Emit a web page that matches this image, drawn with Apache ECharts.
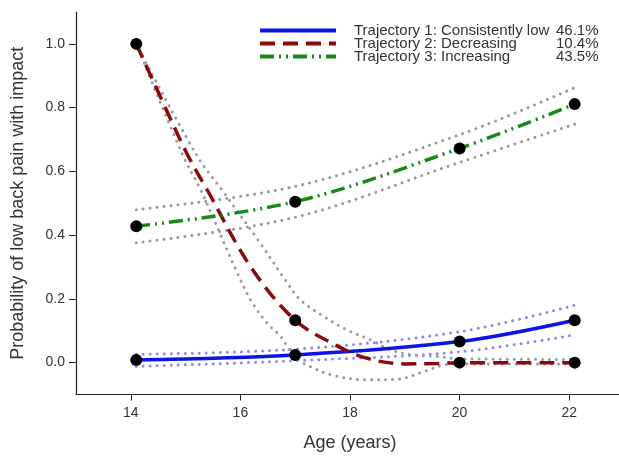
<!DOCTYPE html>
<html>
<head>
<meta charset="utf-8">
<script src="https://cdn.jsdelivr.net/npm/echarts@6/dist/echarts.min.js"></script>
<style>
html, body { margin: 0; padding: 0; background: #fff; }
#chart { width: 619px; height: 459px; }
</style>
</head>
<body>
<div id="chart"></div>
<script>
// Axis ticks
const xTicks = [14, 16, 18, 20, 22];
const yTicks = [0, 0.2, 0.4, 0.6, 0.8, 1.0];

// Trajectory labels and group shares
const trajNames = ['Trajectory 1: Consistently low', 'Trajectory 2: Decreasing', 'Trajectory 3: Increasing'];
const trajShares = ['46.1%', '10.4%', '43.5%'];

// Assessment ages (observed points)
const ages = [14.1, 17.0, 20.0, 22.1];

// Trajectory 1: consistently low
const t1 = [0.008, 0.024, 0.066, 0.133];
const t1Upper = [0.026, 0.042, 0.097, 0.180];
const t1Lower = [-0.012, 0.006, 0.034, 0.087];

// Trajectory 2: decreasing (fitted curve sampled along age)
const t2 = [1.0, 0.133, 0.0, 0.0];
const t2CurveAges = [14.1, 14.55, 15.03, 15.4, 16.19, 17.0, 17.74, 18.3, 19.0, 19.6, 20.0, 22.1];
const t2Curve = [1.0, 0.83, 0.654, 0.54, 0.30, 0.133, 0.055, 0.014, -0.004, -0.003, 0.0, 0.0];
const t2UpperAges = [14.1, 15.19, 15.67, 16.37, 16.8, 17.1, 17.53, 17.95, 18.38, 18.74, 19.16, 19.6, 20.0, 22.1];
const t2Upper = [1.0, 0.654, 0.54, 0.373, 0.264, 0.196, 0.144, 0.102, 0.071, 0.040, 0.024, 0.019, 0.012, 0.010];
const t2LowerAges = [14.1, 14.94, 15.28, 15.95, 16.19, 16.49, 16.74, 16.98, 17.28, 17.65, 18.26, 18.87, 19.35, 19.72, 20.0, 22.1];
const t2Lower = [1.0, 0.654, 0.54, 0.279, 0.196, 0.123, 0.081, 0.019, -0.0125, -0.038, -0.054, -0.052, -0.028, -0.007, -0.004, -0.004];

// Trajectory 3: increasing
const t3 = [0.428, 0.505, 0.672, 0.811];
const t3Upper = [0.480, 0.553, 0.715, 0.8625];
const t3Lower = [0.376, 0.456, 0.628, 0.748];

const pairs = (xs, ys) => xs.map((x, i) => [x, ys[i]]);

const FONT = '"Liberation Sans", Arial, sans-serif';
const DOT = [0.01, 7];

function ciLine(xs, ys, color) {
  return {
    type: 'line', data: pairs(xs, ys), smooth: 0.35, symbol: 'none', z: 1,
    silent: true,
    lineStyle: { color: color, width: 3, type: DOT, cap: 'round' }
  };
}

function mainLine(name, xs, ys, color, type) {
  return {
    name: name, type: 'line', data: pairs(xs, ys), smooth: 0.35, symbol: 'none', z: 3,
    lineStyle: { color: color, width: 3.5, type: type },
    itemStyle: { color: color }
  };
}

function points(ys) {
  return {
    type: 'scatter', data: pairs(ages, ys), symbol: 'circle', symbolSize: 12, z: 5,
    itemStyle: { color: '#000', opacity: 1 }, silent: true
  };
}

const chart = echarts.init(document.getElementById('chart'), null, { renderer: 'canvas' });

chart.setOption({
  animation: false,
  backgroundColor: '#fff',
  grid: { left: 76, top: 12, width: 548, height: 382.5, containLabel: false, outerBoundsMode: 'none' },
  xAxis: {
    type: 'value', min: 13, max: 23,
    name: 'Age (years)', nameLocation: 'middle', nameGap: 40,
    nameTextStyle: { fontFamily: FONT, fontSize: 18, color: '#333' },
    axisLine: { show: true, onZero: false, lineStyle: { color: '#222', width: 1.2 } },
    axisTick: { show: true, customValues: xTicks, length: 6, lineStyle: { color: '#222' } },
    axisLabel: { customValues: xTicks, margin: 12, fontFamily: FONT, fontSize: 14, color: '#333' },
    splitLine: { show: false }
  },
  yAxis: {
    type: 'value', min: -0.1, max: 1.1,
    name: 'Probability of low back pain with impact', nameLocation: 'middle', nameGap: 49,
    nameTextStyle: { fontFamily: FONT, fontSize: 18, color: '#333' },
    axisLine: { show: true, onZero: false, lineStyle: { color: '#222', width: 1.2 } },
    axisTick: { show: true, customValues: yTicks, length: 7, lineStyle: { color: '#222' } },
    axisLabel: {
      customValues: yTicks, margin: 11, fontFamily: FONT, fontSize: 14, color: '#333',
      formatter: v => v.toFixed(1)
    },
    splitLine: { show: false }
  },
  legend: {
    show: true, orient: 'vertical', left: 253, top: 18,
    itemWidth: 76, itemHeight: 13, itemGap: -2,
    itemStyle: { opacity: 0 },
    lineStyle: { width: 4 },
    data: trajNames,
    formatter: name => '{n|' + name + '}{p|' + trajShares[trajNames.indexOf(name)] + '}',
    textStyle: {
      fontFamily: FONT, fontSize: 15, color: '#333',
      rich: {
        n: { width: 202, padding: [0, 0, 0, 13], fontFamily: FONT, fontSize: 15, color: '#333' },
        p: { fontFamily: FONT, fontSize: 15, color: '#333' }
      }
    }
  },
  series: [
    ciLine(ages, t1Upper, '#8c8cf0'),
    ciLine(ages, t1Lower, '#8c8cf0'),
    ciLine(t2UpperAges, t2Upper, '#a39a9a'),
    ciLine(t2LowerAges, t2Lower, '#a39a9a'),
    ciLine(ages, t3Upper, '#9a9a9a'),
    ciLine(ages, t3Lower, '#9a9a9a'),
    mainLine(trajNames[0], ages, t1, '#0a14e6', 'solid'),
    mainLine(trajNames[1], t2CurveAges, t2Curve, '#8b0a0a', [15, 8]),
    mainLine(trajNames[2], ages, t3, '#168a16', [14, 5, 2, 5, 2, 5]),
    points(t1),
    points(t2),
    points(t3)
  ]
});
</script>
</body>
</html>
